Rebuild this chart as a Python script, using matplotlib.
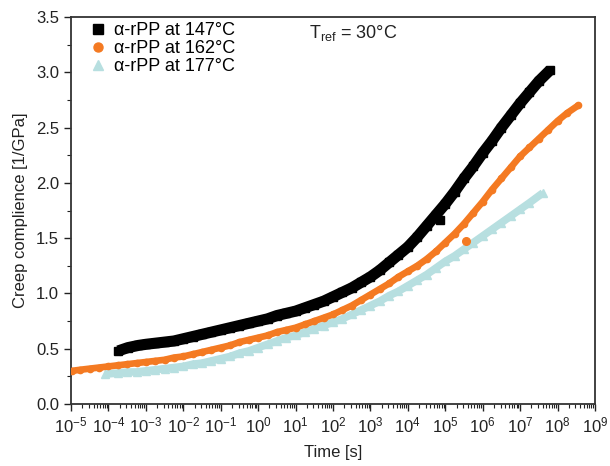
import matplotlib.pyplot as plt
from matplotlib.ticker import LogLocator, MultipleLocator, NullFormatter

plt.rcParams["font.family"] = ["Liberation Sans", "DejaVu Sans"]
plt.rcParams["mathtext.fontset"] = "custom"
plt.rcParams["mathtext.rm"] = "Liberation Sans"
plt.rcParams["mathtext.it"] = "Liberation Sans:italic"

# master curves, log10(time) and creep compliance in 1/GPa
logt_147 = [-3.74, -3.48, -3.2, -3.0, -2.75, -2.5, -2.25, -2.0, -1.75, -1.5, -1.25, -1.0,
            -0.75, -0.5, -0.25, 0.0, 0.25, 0.5, 0.75, 1.0, 1.25, 1.5, 1.75, 2.0, 2.25,
            2.5, 2.75, 3.0, 3.25, 3.5, 3.75, 4.0, 4.25, 4.5, 4.75, 5.0, 5.25, 5.5,
            5.75, 6.0, 6.25, 6.5, 6.75, 7.0, 7.25, 7.5, 7.8]
j_147 = [0.48, 0.51, 0.53, 0.54, 0.55, 0.56, 0.57, 0.59, 0.61, 0.63, 0.65, 0.67,
         0.69, 0.71, 0.73, 0.75, 0.77, 0.80, 0.82, 0.84, 0.87, 0.90, 0.93, 0.97, 1.01,
         1.05, 1.10, 1.15, 1.21, 1.28, 1.35, 1.42, 1.51, 1.61, 1.71, 1.81, 1.92, 2.04,
         2.15, 2.27, 2.38, 2.50, 2.61, 2.72, 2.82, 2.92, 3.02]

logt_162 = [-4.97, -4.75, -4.5, -4.25, -4.0, -3.75, -3.5, -3.25, -3.0, -2.75, -2.5, -2.25,
            -2.0, -1.75, -1.5, -1.25, -1.0, -0.75, -0.5, -0.25, 0.0, 0.25, 0.5, 0.75,
            1.0, 1.25, 1.5, 1.75, 2.0, 2.25, 2.5, 2.75, 3.0, 3.25, 3.5, 3.75, 4.0, 4.25,
            4.5, 4.75, 5.0, 5.25, 5.5, 5.75, 6.0, 6.25, 6.5, 6.75, 7.0, 7.25, 7.5,
            7.75, 8.0, 8.25, 8.55]
j_162 = [0.30, 0.31, 0.32, 0.33, 0.34, 0.35, 0.36, 0.37, 0.38, 0.39, 0.40, 0.42,
         0.43, 0.45, 0.47, 0.49, 0.51, 0.53, 0.56, 0.58, 0.60, 0.62, 0.65, 0.67,
         0.69, 0.72, 0.75, 0.78, 0.81, 0.85, 0.89, 0.94, 0.99, 1.04, 1.09, 1.15, 1.20, 1.25,
         1.31, 1.38, 1.46, 1.54, 1.63, 1.73, 1.83, 1.94, 2.04, 2.14, 2.24, 2.32, 2.40,
         2.48, 2.56, 2.63, 2.70]

logt_177 = [-4.09, -3.75, -3.5, -3.25, -3.0, -2.75, -2.5, -2.25, -2.0, -1.75, -1.5, -1.25,
            -1.0, -0.75, -0.5, -0.25, 0.0, 0.25, 0.5, 0.75, 1.0, 1.25, 1.5, 1.75, 2.0,
            2.25, 2.5, 2.75, 3.0, 3.25, 3.5, 3.75, 4.0, 4.25, 4.5, 4.75, 5.0, 5.25, 5.5,
            5.75, 6.0, 6.25, 6.5, 6.75, 7.0, 7.25, 7.61]
j_177 = [0.27, 0.28, 0.29, 0.29, 0.30, 0.31, 0.32, 0.33, 0.34, 0.36, 0.37, 0.39,
         0.41, 0.43, 0.46, 0.48, 0.51, 0.54, 0.57, 0.60, 0.62, 0.65, 0.68, 0.71, 0.74,
         0.77, 0.81, 0.85, 0.89, 0.93, 0.98, 1.02, 1.07, 1.12, 1.17, 1.23, 1.29, 1.34, 1.40,
         1.46, 1.52, 1.58, 1.64, 1.70, 1.76, 1.82, 1.91]

# stray points lying off the master curves
logt_147_off = [4.87]
j_147_off = [1.66]
logt_162_off = [5.56]
j_162_off = [1.47]

labels = ["α-rPP at 147°C", "α-rPP at 162°C", "α-rPP at 177°C"]
colors = ["#000000", "#f47a22", "#b7dfe0"]
markers = ["s", "o", "^"]
sizes = [6.0, 4.5, 5.5]
bands = [8.0, 4.8, 5.5]

fig = plt.figure(figsize=(6.1, 4.66), dpi=100)
ax = fig.add_axes([0.1164, 0.133, 0.859, 0.8305])

series = [(logt_147, j_147), (logt_162, j_162), (logt_177, j_177)]
# draw back to front so the black curve sits on top
for i in [2, 1, 0]:
    logt, j = series[i]
    t = [10 ** v for v in logt]
    ax.plot(t, j, "-", color=colors[i], lw=bands[i], solid_capstyle="butt", zorder=2 + (2 - i))
    ax.plot(t, j, linestyle="none", marker=markers[i], ms=sizes[i], color=colors[i],
            label=labels[i], zorder=2 + (2 - i))

ax.plot([10 ** v for v in logt_147_off], j_147_off, "s", ms=sizes[0], color=colors[0], zorder=5)
ax.plot([10 ** v for v in logt_162_off], j_162_off, "o", ms=sizes[1] + 1, color=colors[1], zorder=4)

ax.set_xscale("log")
ax.set_xlim(1e-5, 1e9)
ax.set_ylim(0, 3.5)
ax.xaxis.set_major_locator(LogLocator(base=10, numticks=30))
ax.xaxis.set_minor_locator(LogLocator(base=10, subs=range(2, 10), numticks=200))
ax.xaxis.set_minor_formatter(NullFormatter())
ax.yaxis.set_major_locator(MultipleLocator(0.5))
ax.yaxis.set_minor_locator(MultipleLocator(0.25))
ax.yaxis.set_major_formatter(plt.FormatStrFormatter("%.1f"))

ax.tick_params(which="major", direction="out", length=5, width=1, labelsize=12, colors="#222222")
ax.tick_params(which="minor", direction="out", length=3, width=0.8, colors="#222222")
for s in ax.spines.values():
    s.set_linewidth(1.3)
    s.set_color("#333333")

ax.set_xlabel("Time [s]", fontsize=12, color="#222222", labelpad=7)
ax.set_ylabel("Creep complience [1/GPa]", fontsize=12, color="#222222", labelpad=6)

handles, labs = ax.get_legend_handles_labels()
order = [labs.index(l) for l in labels]
leg = ax.legend([handles[k] for k in order], labels, loc="upper left", frameon=False,
                fontsize=13, handlelength=0.8, handletextpad=0.5, labelspacing=0.05,
                borderaxespad=0.2, bbox_to_anchor=(0.017, 1.015))
for h in leg.legend_handles:
    h.set_markersize(6.5)

ax.text(0.455, 0.985, r"T$_\mathregular{ref}$ = 30°C", transform=ax.transAxes,
        fontsize=13, ha="left", va="top", color="#222222")

fig.savefig("out.png", dpi=100)
